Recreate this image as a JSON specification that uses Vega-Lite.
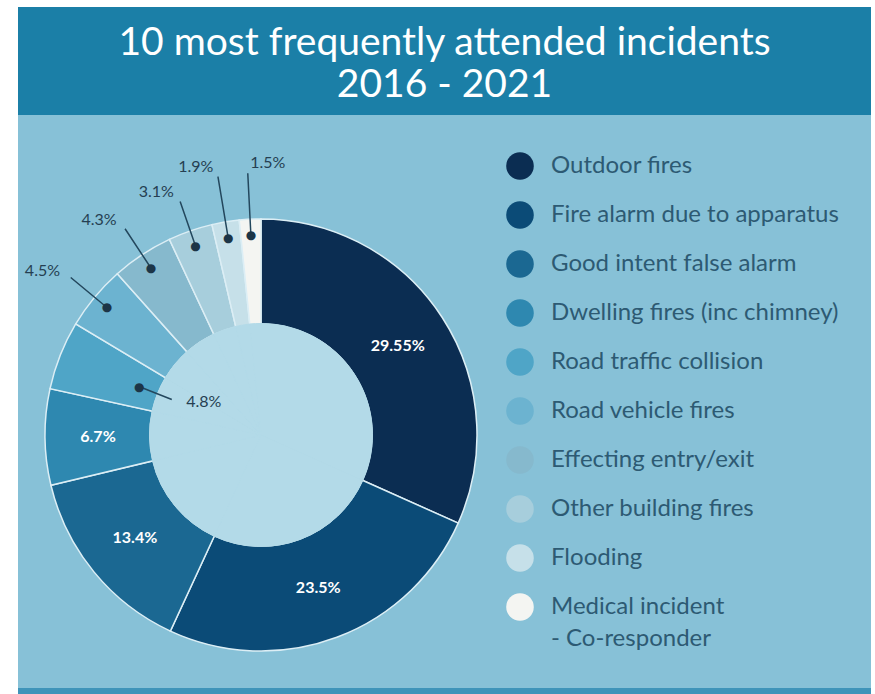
{
  "$schema": "https://vega.github.io/schema/vega-lite/v6.json",
  "background": "white",
  "padding": {"left": 18, "top": 7, "right": 4, "bottom": 0},
  "spacing": 0,
  "bounds": "flush",
  "config": {
    "view": {"stroke": null},
    "concat": {"spacing": 0},
    "style": {"guide-label": {"lineHeight": 32}}
  },
  "vconcat": [
    {
      "width": 853,
      "height": 108,
      "view": {"fill": "#1b7fa7", "stroke": null},
      "data": {"values": [{"heading": "10 most frequently attended incidents\n2016 - 2021"}]},
      "mark": {"type": "text", "lineBreak": "\n", "font": "Lato", "fontSize": 39, "lineHeight": 42, "color": "white", "baseline": "middle", "dy": -18},
      "encoding": {"text": {"field": "heading"}}
    },
    {
      "width": 853,
      "height": 573,
      "view": {"fill": "#87c1d7", "stroke": null},
      "data": {
        "values": [
          {"idx": 1, "category": "Outdoor fires", "value": 29.55, "label": "29.55%"},
          {"idx": 2, "category": "Fire alarm due to apparatus", "value": 23.5, "label": "23.5%"},
          {"idx": 3, "category": "Good intent false alarm", "value": 13.4, "label": "13.4%"},
          {"idx": 4, "category": "Dwelling fires (inc chimney)", "value": 6.7, "label": "6.7%"},
          {"idx": 5, "category": "Road traffic collision", "value": 4.8, "label": "4.8%"},
          {"idx": 6, "category": "Road vehicle fires", "value": 4.5, "label": "4.5%"},
          {"idx": 7, "category": "Effecting entry/exit", "value": 4.3, "label": "4.3%"},
          {"idx": 8, "category": "Other building fires", "value": 3.1, "label": "3.1%"},
          {"idx": 9, "category": "Flooding", "value": 1.9, "label": "1.9%"},
          {"idx": 10, "category": "Medical incident - Co-responder", "value": 1.5, "label": "1.5%"}
        ]
      },
      "encoding": {
        "theta": {"field": "value", "type": "quantitative", "stack": true},
        "order": {"field": "idx", "type": "quantitative"},
        "detail": {"field": "category", "type": "nominal"}
      },
      "layer": [
        {
          "mark": {"type": "arc", "x": 243, "y": 320, "outerRadius": 216, "innerRadius": 111, "stroke": "#dceef5", "strokeWidth": 1.5},
          "encoding": {
            "color": {
              "field": "category",
              "type": "nominal",
              "sort": null,
              "scale": {
                "domain": ["Outdoor fires", "Fire alarm due to apparatus", "Good intent false alarm", "Dwelling fires (inc chimney)", "Road traffic collision", "Road vehicle fires", "Effecting entry/exit", "Other building fires", "Flooding", "Medical incident - Co-responder"],
                "range": ["#0b2d52", "#0b4b77", "#1b6892", "#2e88b0", "#4fa5c7", "#6cb3d0", "#86b9cd", "#a7cedc", "#c6e0e9", "#f4f5f2"]
              },
              "legend": {
                "orient": "none",
                "legendX": 488,
                "legendY": 145,
                "title": null,
                "padding": 0,
                "symbolType": "circle",
                "symbolSize": 760,
                "symbolStrokeWidth": 0,
                "symbolOpacity": 1,
                "labelFont": "Lato",
                "labelFontSize": 24,
                "labelColor": "#2d5a73",
                "labelOffset": 17,
                "labelLimit": 400,
                "rowPadding": 21,
                "labelExpr": "datum.label == 'Medical incident - Co-responder' ? ['Medical incident', '- Co-responder'] : datum.label"
              }
            }
          }
        },
        {
          "mark": {"type": "arc", "x": 243, "y": 320, "outerRadius": 111.5, "innerRadius": 0, "fill": "#b3dae8", "stroke": "#b3dae8", "strokeWidth": 1}
        },
        {
          "mark": {"type": "text", "x": 243, "y": 320, "radius": 163, "font": "Lato", "fontSize": 16, "fontWeight": "bold", "fill": "white", "clip": true},
          "encoding": {
            "text": {"field": "label"},
            "opacity": {"condition": {"test": "datum.value > 6", "value": 1}, "value": 0}
          }
        },
        {
          "mark": {"type": "arc", "x": 243, "y": 320, "innerRadius": 200, "outerRadius": 262, "padAngle": 1.5, "fill": "#23475d", "stroke": "#23475d", "strokeWidth": 1.5, "clip": true},
          "encoding": {
            "opacity": {"condition": {"test": "datum.value < 2", "value": 1}, "value": 0}
          }
        },
        {
          "mark": {"type": "arc", "x": 243, "y": 320, "innerRadius": 200, "outerRadius": 247, "padAngle": 1.5, "fill": "#23475d", "stroke": "#23475d", "strokeWidth": 1.5, "clip": true},
          "encoding": {
            "opacity": {"condition": {"test": "datum.value < 4.6 && datum.value > 2", "value": 1}, "value": 0}
          }
        },
        {
          "mark": {"type": "arc", "x": 243, "y": 320, "innerRadius": 96, "outerRadius": 130, "padAngle": 1.5, "fill": "#23475d", "stroke": "#23475d", "strokeWidth": 1.5, "clip": true},
          "encoding": {
            "opacity": {"condition": {"test": "datum.value == 4.8", "value": 1}, "value": 0}
          }
        },
        {
          "mark": {"type": "text", "x": 243, "y": 320, "radius": 200, "text": "●", "font": "DejaVu Sans", "fontSize": 12, "fill": "#1c3547", "clip": true},
          "encoding": {
            "opacity": {"condition": {"test": "datum.value < 4.6", "value": 1}, "value": 0}
          }
        },
        {
          "mark": {"type": "text", "x": 243, "y": 320, "radius": 131, "text": "●", "font": "DejaVu Sans", "fontSize": 12, "fill": "#1c3547", "clip": true},
          "encoding": {
            "opacity": {"condition": {"test": "datum.value == 4.8", "value": 1}, "value": 0}
          }
        },
        {
          "mark": {"type": "text", "x": 243, "y": 320, "radius": 272, "align": "left", "dx": 3, "font": "Lato", "fontSize": 16, "fill": "#253f52", "clip": true},
          "encoding": {
            "text": {"field": "label"},
            "opacity": {"condition": {"test": "datum.value == 1.5", "value": 1}, "value": 0}
          }
        },
        {
          "mark": {"type": "text", "x": 243, "y": 320, "radius": 272, "align": "right", "dx": -3, "font": "Lato", "fontSize": 16, "fill": "#253f52", "clip": true},
          "encoding": {
            "text": {"field": "label"},
            "opacity": {"condition": {"test": "datum.value == 1.9", "value": 1}, "value": 0}
          }
        },
        {
          "mark": {"type": "text", "x": 243, "y": 320, "radius": 257, "align": "right", "dx": -3, "font": "Lato", "fontSize": 16, "fill": "#253f52", "clip": true},
          "encoding": {
            "text": {"field": "label"},
            "opacity": {"condition": {"test": "datum.value < 4.6 && datum.value > 2", "value": 1}, "value": 0}
          }
        },
        {
          "mark": {"type": "text", "x": 243, "y": 320, "radius": 89, "align": "left", "dx": 8, "font": "Lato", "fontSize": 16, "fill": "#253f52", "clip": true},
          "encoding": {
            "text": {"field": "label"},
            "opacity": {"condition": {"test": "datum.value == 4.8", "value": 1}, "value": 0}
          }
        }
      ]
    },
    {
      "width": 853,
      "height": 6,
      "view": {"fill": "#3f94b9", "stroke": null},
      "data": {"values": [{}]},
      "mark": {"type": "text", "text": ""}
    }
  ]
}
